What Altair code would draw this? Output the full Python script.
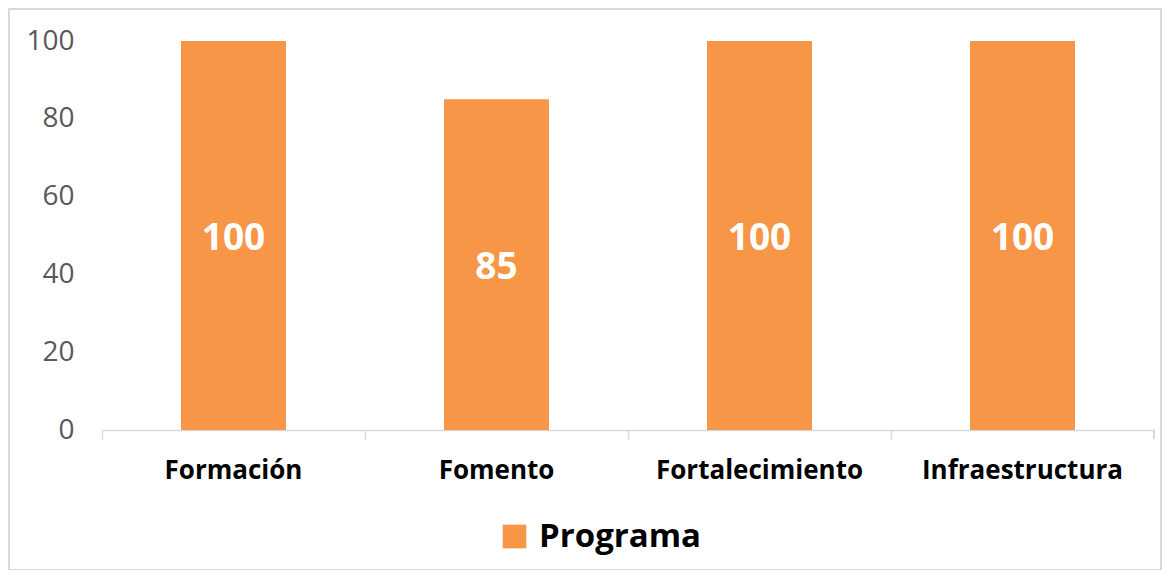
import altair as alt
import pandas as pd

categories = ["Formación", "Fomento", "Fortalecimiento", "Infraestructura"]
values = [100, 85, 100, 100]
series = ["Programa"] * 4

df = pd.DataFrame({"categoria": categories, "valor": values, "serie": series})

W, H = 1052, 389
FONT = "Open Sans"

x_enc = alt.X(
    "categoria:N",
    sort=categories,
    scale=alt.Scale(paddingInner=0, paddingOuter=0),
    axis=alt.Axis(
        title=None, labelAngle=0, bandPosition=0, labelLimit=400,
        labelFont=FONT, labelFontSize=26, labelFontWeight="bold", labelColor="#000000",
        labelPadding=18, domainColor="#D9D9D9", domainWidth=1.5,
        tickColor="#D9D9D9", tickWidth=1.5, tickSize=9,
    ),
)

base = alt.Chart(df)

bars = base.mark_bar(color="#F79646", size=105).encode(
    x=x_enc,
    y=alt.Y(
        "valor:Q",
        scale=alt.Scale(domain=[0, 100]),
        axis=alt.Axis(
            title=None, values=[0, 20, 40, 60, 80, 100], domain=False, ticks=False, grid=False,
            labelFont=FONT, labelFontSize=28, labelColor="#595959", labelPadding=28,
        ),
    ),
    color=alt.Color(
        "serie:N",
        scale=alt.Scale(range=["#F79646"]),
        legend=alt.Legend(
            title=None, orient="none", legendX=396, legendY=479,
            symbolType="square", symbolSize=560, symbolStrokeWidth=0,
            labelFont=FONT, labelFontSize=33, labelFontWeight="bold", labelColor="#000000",
            labelOffset=8, labelLimit=400,
        ),
    ),
)

labels = base.transform_calculate(mid="datum.valor / 2").mark_text(
    color="white", font=FONT, fontSize=37, fontWeight="bold", baseline="middle", dy=3
).encode(
    x=alt.X("categoria:N", sort=categories),
    y=alt.Y("mid:Q"),
    text=alt.Text("valor:Q"),
)

end_tick = base.mark_rule(color="#D9D9D9", strokeWidth=1.5).encode(
    x=alt.value(W), y=alt.value(H), y2=alt.value(H + 9)
)

frame = base.mark_rect(fill=None, stroke="#D9D9D9", strokeWidth=1.5).encode(
    x=alt.value(-93), x2=alt.value(1059), y=alt.value(-32), y2=alt.value(529)
)

chart = alt.layer(frame, bars, labels, end_tick).properties(
    width=W, height=H,
    background="white",
    autosize=alt.AutoSizeParams(type="none"),
    padding={"left": 94, "top": 33, "right": 8, "bottom": 140},
).configure_view(stroke=None)

chart.save("out.html", embed_options={"renderer": "svg", "actions": False})
